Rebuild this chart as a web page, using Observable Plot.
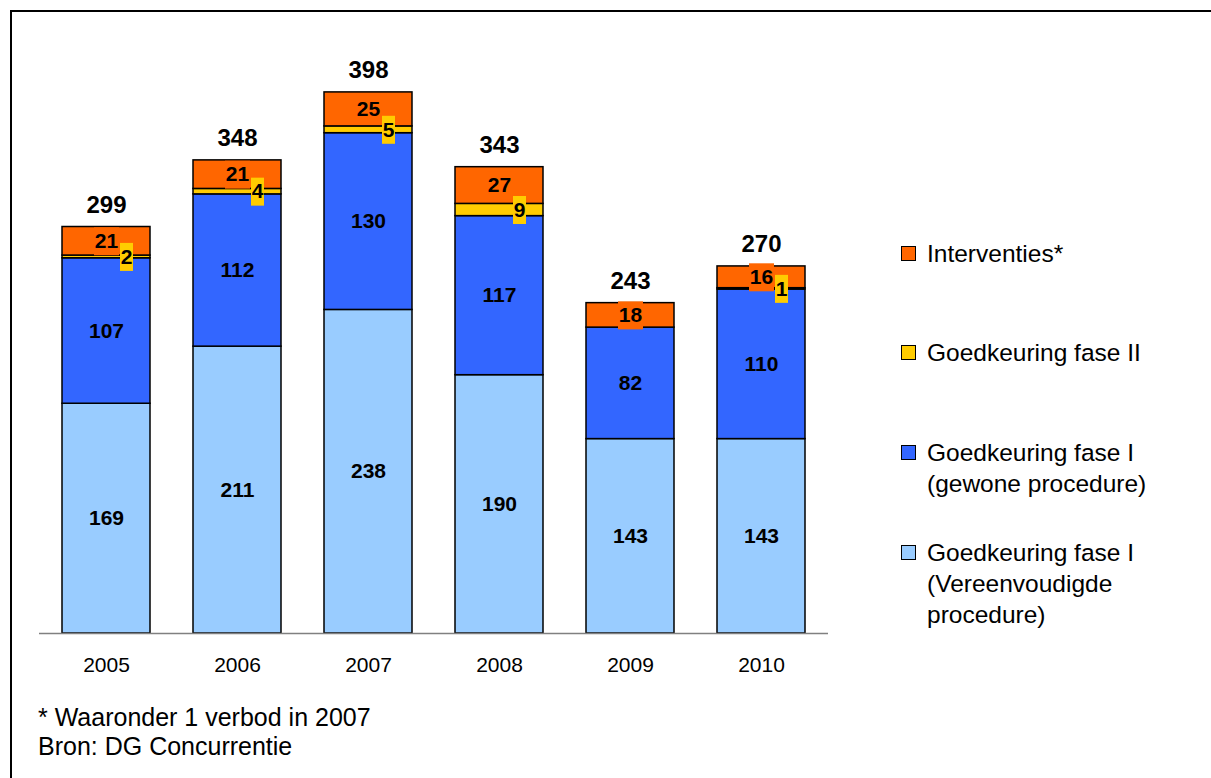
<!DOCTYPE html>
<html><head><meta charset="utf-8">
<script src="https://cdn.jsdelivr.net/npm/d3@7"></script>
<script src="https://cdn.jsdelivr.net/npm/@observablehq/plot@0.6"></script>
<style>
body{margin:0;background:#fff;font-family:"Liberation Sans",Arial,sans-serif;color:#000;}
#wrap{position:relative;width:1211px;height:778px;overflow:hidden;background:#fff;}
#frame{position:absolute;left:10px;top:10px;width:1400px;height:1000px;border-top:2px solid #000;border-left:2px solid #000;}
#chart{position:absolute;left:0;top:0;}
.leg{position:absolute;left:901px;font-size:24.5px;line-height:31px;}
.leg .sw{position:absolute;left:0;top:8px;width:13px;height:13px;border:1.5px solid #000;}
.leg .lb{position:absolute;left:26px;top:0;white-space:nowrap;}
.note{position:absolute;left:38px;font-size:25px;line-height:29px;white-space:nowrap;}
</style>
</head><body>
<div id="wrap">
  <div id="frame"></div>
  <div id="chart"></div>
  <div id="legend"></div>
  <div class="note" style="top:703px">* Waaronder 1 verbod in 2007</div>
  <div class="note" style="top:732px">Bron: DG Concurrentie</div>
</div>
<script>
const years = ["2005","2006","2007","2008","2009","2010"];
const seriesNames = [
  "Goedkeuring fase I (Vereenvoudigde procedure)",
  "Goedkeuring fase I (gewone procedure)",
  "Goedkeuring fase II",
  "Interventies*"
];
const vereenvoudigd = [169,211,238,190,143,143];
const gewoon = [107,112,130,117,82,110];
const faseII = [2,4,5,9,0,1];
const interventies = [21,21,25,27,18,16];
const totals = [299,348,398,343,243,270];
const colors = ["#99CCFF","#3366FF","#FFCC00","#FF6600"];

const legendItems = [
  {name: "Interventies*", lines: ["Interventies*"], color: colors[3], top: 238},
  {name: "Goedkeuring fase II", lines: ["Goedkeuring fase II"], color: colors[2], top: 337},
  {name: "Goedkeuring fase I (gewone procedure)", lines: ["Goedkeuring fase I", "(gewone procedure)"], color: colors[1], top: 437},
  {name: "Goedkeuring fase I (Vereenvoudigde procedure)", lines: ["Goedkeuring fase I", "(Vereenvoudigde", "procedure)"], color: colors[0], top: 537}
];

// build stacked table
const seriesValues = [vereenvoudigd, gewoon, faseII, interventies];
const rows = [];
years.forEach((yr, i) => {
  let acc = 0;
  seriesValues.forEach((vals, s) => {
    const v = vals[i];
    rows.push({year: yr, series: seriesNames[s], idx: s, value: v, y1: acc, y2: acc + v, mid: acc + v / 2});
    acc += v;
  });
});
const totalRows = years.map((yr, i) => ({year: yr, total: totals[i]}));

const orangeRows = rows.filter(d => d.idx === 3 && d.value > 0);
const yellowRows = rows.filter(d => d.idx === 2 && d.value > 0);
const blueRows = rows.filter(d => d.idx < 2);

const boxWide = {draw(ctx) { ctx.rect(-12.5, -14, 25, 28); }};
const boxNarrow = {draw(ctx) { ctx.rect(-6.5, -14, 13, 28); }};

const chart = Plot.plot({
  width: 860,
  height: 690,
  marginLeft: 39,
  marginRight: 32,
  marginTop: 62,
  marginBottom: 57,
  style: {fontFamily: "'Liberation Sans', Arial, sans-serif", fontSize: "21px", color: "#000", background: "transparent"},
  x: {domain: years, paddingInner: 0.33, paddingOuter: 0.16, label: null},
  y: {domain: [0, 420], axis: null},
  color: {domain: seriesNames, range: colors},
  marks: [
    Plot.barY(rows, {x: "year", y1: "y1", y2: "y2", fill: "series", stroke: "#000", strokeWidth: 1.5}),
    Plot.ruleY([0], {stroke: "#808080", strokeWidth: 1.5}),
    Plot.dot(orangeRows, {x: "year", y: "mid", symbol: boxWide, fill: colors[3], stroke: null, r: 10}),
    Plot.dot(yellowRows, {x: "year", y: "mid", symbol: boxNarrow, fill: colors[2], stroke: null, r: 10, dx: 20}),
    Plot.text(blueRows, {x: "year", y: "mid", text: d => String(d.value), fontSize: 21, fontWeight: "bold", fill: "#000"}),
    Plot.text(orangeRows, {x: "year", y: "mid", text: d => String(d.value), fontSize: 21, fontWeight: "bold", fill: "#000"}),
    Plot.text(yellowRows, {x: "year", y: "mid", text: d => String(d.value), fontSize: 21, fontWeight: "bold", fill: "#000", dx: 20}),
    Plot.text(totalRows, {x: "year", y: "total", text: d => String(d.total), fontSize: 24, fontWeight: "bold", fill: "#000", dy: -22}),
    Plot.axisX({tickSize: 0, tickPadding: 24, fontSize: 21, label: null, fill: "#000"})
  ]
});
document.getElementById("chart").appendChild(chart);

const leg = document.getElementById("legend");
legendItems.forEach(it => {
  const div = document.createElement("div");
  div.className = "leg";
  div.style.top = it.top + "px";
  const sw = document.createElement("div");
  sw.className = "sw";
  sw.style.background = it.color;
  const lb = document.createElement("div");
  lb.className = "lb";
  lb.innerHTML = it.lines.join("<br>");
  div.appendChild(sw);
  div.appendChild(lb);
  leg.appendChild(div);
});
</script>
</body></html>
